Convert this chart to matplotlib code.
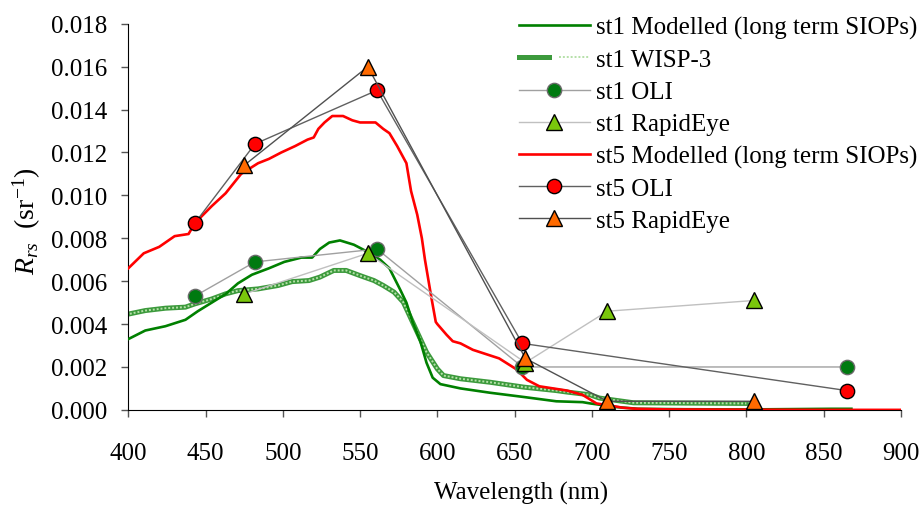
import matplotlib
matplotlib.use("Agg")
import matplotlib.pyplot as plt
from matplotlib.legend_handler import HandlerTuple

plt.rcParams['font.family'] = ['Liberation Serif', 'DejaVu Serif']
plt.rcParams['mathtext.fontset'] = 'custom'
plt.rcParams['mathtext.rm'] = 'Liberation Serif'
plt.rcParams['mathtext.it'] = 'Liberation Serif:italic'

# st5 modelled (long term SIOPs)
st5_mod_wl = [400, 410, 420, 430, 439, 443, 454, 463, 473, 484, 491, 499, 508, 516, 520, 523, 527,
              532, 539, 545, 550, 560, 565, 569, 574, 580, 583, 587, 590, 592, 596, 599, 600, 606,
              610, 615, 623, 640, 651, 658, 666, 684, 694, 703, 712, 720, 729, 750, 800, 850, 900]
st5_mod_val = [0.0066, 0.0073, 0.0076, 0.0081, 0.0082, 0.0087, 0.0095, 0.0101, 0.0110, 0.0115, 0.0117,
               0.0120, 0.0123, 0.0126, 0.0127, 0.0131, 0.0134, 0.0137, 0.0137, 0.0135, 0.0134, 0.0134,
               0.0131, 0.0129, 0.0123, 0.0115, 0.0102, 0.0091, 0.0080, 0.0070, 0.0053, 0.0041, 0.0040,
               0.0035, 0.0032, 0.0031, 0.0028, 0.0024, 0.0019, 0.0014, 0.0011, 0.0009, 0.0007, 0.0003,
               0.0002, 0.0001, 0.00005, 0.00002, 0.00001, 0.0, 0.0]

# st1 modelled (long term SIOPs)
st1_mod_wl = [400, 411, 424, 437, 445, 454, 463, 471, 480, 491, 501, 512, 519, 524, 530, 537, 546, 554,
              563, 569, 576, 580, 584, 589, 593, 597, 602, 615, 634, 656, 677, 694, 699, 716, 730, 760,
              800, 855, 868]
st1_mod_val = [0.0033, 0.0037, 0.0039, 0.0042, 0.0046, 0.0050, 0.0054, 0.0059, 0.0063, 0.0066, 0.0069,
               0.0071, 0.0071, 0.0075, 0.0078, 0.0079, 0.0077, 0.0074, 0.0070, 0.0066, 0.0056, 0.0050,
               0.0041, 0.0032, 0.0022, 0.0015, 0.0012, 0.0010, 0.0008, 0.0006, 0.0004, 0.00036, 0.0003,
               0.00013, 0.00005, 0.00003, 0.00002, 0.00005, 0.00005]

# st1 WISP-3
st1_wisp_wl = [401, 411, 424, 437, 443, 454, 463, 471, 484, 497, 506, 517, 524, 533, 541, 550, 559, 565,
               572, 578, 582, 587, 593, 600, 604, 615, 634, 656, 677, 684, 699, 705, 720, 727, 800]
st1_wisp_val = [0.00448, 0.00463, 0.00474, 0.00479, 0.00494, 0.00517, 0.00541, 0.00556, 0.00564, 0.0058,
                0.00598, 0.00603, 0.00619, 0.0065, 0.0065, 0.00626, 0.00603, 0.0058, 0.00549, 0.00502,
                0.0044, 0.00362, 0.00269, 0.00191, 0.0016, 0.00145, 0.00129, 0.00106, 0.0009, 0.00083,
                0.0007, 0.00055, 0.0004, 0.00033, 0.0003]

# satellite bands
oli_wl = [443, 482, 561, 655, 865]
re_wl = [475, 555, 657, 710, 805]
st1_oli = [0.0053, 0.0069, 0.0075, 0.0020, 0.0020]
st1_re = [0.0054, 0.0073, 0.0022, 0.0046, 0.0051]
st5_oli = [0.0087, 0.0124, 0.0149, 0.0031, 0.0009]
st5_re = [0.0114, 0.0160, 0.0024, 0.0004, 0.0004]

labels = ['st1 Modelled (long term SIOPs)', 'st1 WISP-3', 'st1 OLI', 'st1 RapidEye',
          'st5 Modelled (long term SIOPs)', 'st5 OLI', 'st5 RapidEye']

FS = 18

fig = plt.figure(figsize=(9.23, 5.06), dpi=100)
ax = fig.add_axes([0.139, 0.188, 0.837, 0.763])

h1, = ax.plot(st1_mod_wl, st1_mod_val, color='#008000', lw=1.9, zorder=3)
w_base, = ax.plot(st1_wisp_wl, st1_wisp_val, color='#3c9a3c', lw=3.6, zorder=2)
w_top, = ax.plot(st1_wisp_wl, st1_wisp_val, color='#b5e0a8', lw=1.4, ls=(0, (1, 1)), zorder=2)
h3, = ax.plot(oli_wl, st1_oli, color='#a0a0a0', lw=1.0, marker='o', ms=10.3,
              mfc='#007a10', mec='#6a6a6a', mew=1.0, zorder=4)
h4, = ax.plot(re_wl, st1_re, color='#c0c0c0', lw=1.0, marker='^', ms=11,
              mfc='#7ac70c', mec='#000000', mew=1.0, zorder=4)
h5, = ax.plot(st5_mod_wl, st5_mod_val, color='#ff0000', lw=1.9, zorder=3)
h6, = ax.plot(oli_wl, st5_oli, color='#606060', lw=1.0, marker='o', ms=10.3,
              mfc='#ff0000', mec='#000000', mew=1.0, zorder=4)
h7, = ax.plot(re_wl, st5_re, color='#505050', lw=1.0, marker='^', ms=11,
              mfc='#ff6a00', mec='#000000', mew=1.0, zorder=5)

ax.set_xlim(400, 900)
ax.set_ylim(0, 0.018)
ax.set_xticks(range(400, 901, 50))
ax.set_yticks([i * 0.002 for i in range(10)])
ax.set_yticklabels(['%.3f' % (i * 0.002) for i in range(10)])
for s in ['top', 'right']:
    ax.spines[s].set_visible(False)
ax.tick_params(axis='y', labelsize=FS, direction='out', length=5, width=1, color='#555555', pad=10)
ax.tick_params(axis='x', labelsize=FS, direction='out', length=5, width=1, color='#555555', pad=18.4)
ax.set_xlabel('Wavelength (nm)', fontsize=FS, labelpad=12.2)
ax.xaxis.label.set_x(0.508)
ax.set_ylabel(r'$R_{rs}$  (sr$^{-1}$)', fontsize=20, labelpad=6)
ax.yaxis.label.set_y(0.492)

ax.legend([h1, (w_base, w_top), h3, h4, h5, h6, h7], labels,
          handler_map={tuple: HandlerTuple(ndivide=None)},
          loc='upper right', bbox_to_anchor=(1.0045, 0.986), bbox_transform=fig.transFigure,
          frameon=False, fontsize=FS,
          handlelength=2.84, labelspacing=0.382, handletextpad=0.24, borderaxespad=0)

fig.savefig('out.png', dpi=100)
